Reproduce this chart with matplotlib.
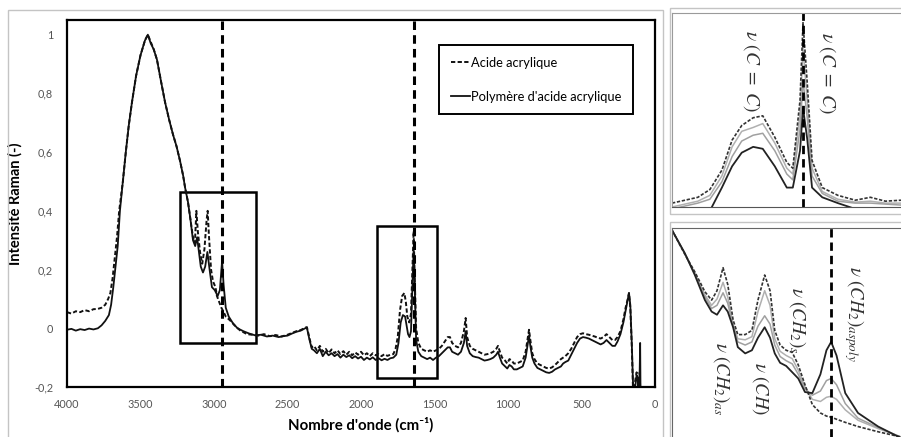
import matplotlib
matplotlib.use("Agg")
import matplotlib.pyplot as plt
from matplotlib.patches import Rectangle
from matplotlib.ticker import FuncFormatter

# --- main spectrum: acide acrylique (dashed) ---
acide_wn = [4000, 3970, 3940, 3910, 3880, 3850, 3820, 3790, 3765, 3740, 3720, 3705, 3690, 3675, 3660, 3645,
            3620, 3600, 3580, 3558, 3530, 3500, 3470, 3450, 3430, 3410, 3388, 3360, 3333, 3305, 3279, 3255,
            3231, 3210, 3197, 3177, 3160, 3143, 3130, 3120, 3110, 3095, 3080, 3065, 3050, 3043, 3035, 3020,
            3007, 2990, 2980, 2965, 2950, 2939, 2920, 2891, 2860, 2823, 2776, 2740, 2700, 2660, 2620, 2580,
            2540, 2500, 2470, 2440, 2410, 2380, 2368, 2350, 2335, 2320, 2300, 2280, 2260, 2240, 2220, 2200,
            2180, 2160, 2140, 2120, 2100, 2080, 2060, 2040, 2020, 2000, 1980, 1960, 1940, 1920, 1900, 1880,
            1860, 1840, 1820, 1800, 1780, 1765, 1750, 1735, 1720, 1705, 1695, 1685, 1672, 1660, 1650, 1642,
            1635, 1625, 1610, 1590, 1570, 1550, 1530, 1510, 1490, 1470, 1450, 1430, 1410, 1395, 1380, 1360,
            1340, 1320, 1300, 1288, 1278, 1260, 1240, 1220, 1200, 1180, 1160, 1140, 1120, 1100, 1080, 1068,
            1055, 1040, 1020, 1005, 990, 975, 960, 940, 920, 900, 880, 865, 857, 848, 835, 820,
            800, 780, 760, 740, 720, 700, 680, 660, 640, 625, 610, 590, 570, 550, 530, 510,
            490, 470, 450, 430, 410, 390, 370, 350, 330, 310, 290, 272, 255, 235, 215, 200,
            185, 177, 168, 158, 150, 143, 135, 125, 118, 110, 104, 98]
acide_int = [0.055, 0.050, 0.058, 0.055, 0.062, 0.058, 0.065, 0.066, 0.070, 0.08, 0.10, 0.12, 0.17, 0.24, 0.31, 0.40,
             0.50, 0.60, 0.69, 0.77, 0.86, 0.93, 0.98, 1.00, 0.975, 0.95, 0.915, 0.84, 0.77, 0.71, 0.66, 0.62,
             0.57, 0.52, 0.48, 0.43, 0.37, 0.31, 0.29, 0.40, 0.33, 0.26, 0.22, 0.27, 0.37, 0.40, 0.32, 0.20,
             0.16, 0.14, 0.11, 0.09, 0.07, 0.06, 0.04, 0.027, 0.01, -0.007, -0.02, -0.022, -0.025, -0.02, -0.027, -0.023,
             -0.028, -0.022, -0.016, -0.010, -0.006, 0.002, 0.004, -0.035, -0.065, -0.06, -0.075, -0.06, -0.08, -0.07, -0.085, -0.072,
             -0.085, -0.075, -0.088, -0.078, -0.09, -0.08, -0.092, -0.082, -0.09, -0.08, -0.092, -0.085, -0.095, -0.085, -0.092, -0.088,
             -0.095, -0.088, -0.094, -0.09, -0.088, -0.07, -0.03, 0.06, 0.11, 0.12, 0.09, 0.04, 0.02, 0.05, 0.20, 0.33,
             0.18, 0.0, -0.05, -0.07, -0.075, -0.08, -0.075, -0.08, -0.075, -0.07, -0.06, -0.045, -0.03, -0.03, -0.05, -0.06,
             -0.065, -0.05, -0.01, 0.035, -0.03, -0.06, -0.07, -0.075, -0.08, -0.085, -0.09, -0.088, -0.085, -0.08, -0.07, -0.06,
             -0.08, -0.10, -0.11, -0.12, -0.105, -0.11, -0.12, -0.12, -0.115, -0.11, -0.08, -0.03, -0.005, -0.04, -0.085, -0.105,
             -0.12, -0.125, -0.13, -0.135, -0.137, -0.133, -0.125, -0.115, -0.105, -0.10, -0.095, -0.085, -0.07, -0.05, -0.03, -0.02,
             -0.017, -0.02, -0.022, -0.025, -0.028, -0.032, -0.035, -0.03, -0.02, -0.03, -0.04, -0.04, -0.03, -0.01, 0.03, 0.07,
             0.10, 0.12, 0.07, -0.06, -0.2, -0.25, -0.18, -0.15, -0.17, -0.25, -0.15, -0.25]

# --- main spectrum: polymère (solid) ---
poly_wn = [4000, 3970, 3940, 3910, 3880, 3850, 3820, 3790, 3765, 3740, 3715, 3700, 3685, 3670, 3655, 3640,
           3620, 3600, 3580, 3558, 3530, 3500, 3470, 3450, 3430, 3410, 3388, 3360, 3333, 3305, 3279, 3255,
           3231, 3210, 3197, 3177, 3160, 3143, 3128, 3115, 3105, 3090, 3075, 3060, 3045, 3030, 3014, 2995,
           2975, 2960, 2945, 2935, 2920, 2900, 2871, 2840, 2800, 2760, 2720, 2680, 2640, 2600, 2560, 2530,
           2500, 2470, 2440, 2410, 2380, 2368, 2350, 2335, 2320, 2300, 2280, 2260, 2240, 2220, 2200, 2180,
           2160, 2140, 2120, 2100, 2080, 2060, 2040, 2020, 2000, 1980, 1960, 1940, 1920, 1900, 1880, 1860,
           1840, 1820, 1800, 1780, 1760, 1745, 1730, 1715, 1700, 1690, 1680, 1670, 1660, 1650, 1642, 1635,
           1625, 1610, 1590, 1570, 1550, 1530, 1510, 1490, 1470, 1450, 1430, 1410, 1395, 1380, 1360, 1340,
           1320, 1300, 1288, 1278, 1260, 1240, 1220, 1200, 1180, 1160, 1140, 1120, 1100, 1080, 1068, 1055,
           1040, 1020, 1005, 990, 975, 960, 940, 920, 900, 880, 865, 857, 848, 835, 820, 800,
           780, 760, 740, 720, 700, 680, 660, 640, 625, 610, 590, 570, 550, 530, 510, 490,
           470, 450, 430, 410, 390, 370, 350, 330, 310, 290, 272, 255, 235, 215, 200, 185,
           177, 168, 158, 150, 143, 135, 125, 118, 110, 104, 101, 98]
poly_int = [-0.005, -0.002, -0.008, -0.003, -0.006, -0.001, -0.004, 0.000, 0.010, 0.025, 0.045, 0.08, 0.14, 0.21, 0.28, 0.40,
            0.50, 0.60, 0.69, 0.77, 0.86, 0.93, 0.98, 1.00, 0.97, 0.95, 0.915, 0.84, 0.77, 0.71, 0.66, 0.62,
            0.57, 0.52, 0.48, 0.43, 0.37, 0.30, 0.28, 0.31, 0.27, 0.21, 0.19, 0.21, 0.26, 0.20, 0.14, 0.13,
            0.11, 0.13, 0.23, 0.15, 0.07, 0.04, 0.017, 0.000, -0.010, -0.018, -0.024, -0.022, -0.028, -0.025, -0.030, -0.027,
            -0.025, -0.018, -0.012, -0.008, 0.000, 0.002, -0.04, -0.07, -0.075, -0.085, -0.07, -0.095, -0.08, -0.092, -0.085, -0.095,
            -0.088, -0.100, -0.090, -0.098, -0.092, -0.102, -0.095, -0.103, -0.097, -0.108, -0.100, -0.106, -0.099, -0.108, -0.102, -0.109,
            -0.104, -0.108, -0.102, -0.100, -0.09, -0.05, 0.02, 0.045, 0.04, 0.01, -0.02, -0.03, -0.01, 0.15, 0.27, 0.15,
            -0.04, -0.08, -0.095, -0.10, -0.105, -0.10, -0.108, -0.100, -0.095, -0.085, -0.075, -0.065, -0.065, -0.08, -0.085, -0.09,
            -0.08, -0.05, -0.01, -0.06, -0.085, -0.095, -0.098, -0.10, -0.105, -0.11, -0.108, -0.105, -0.10, -0.09, -0.08, -0.10,
            -0.12, -0.13, -0.137, -0.125, -0.13, -0.14, -0.14, -0.135, -0.13, -0.10, -0.05, -0.025, -0.06, -0.10, -0.12, -0.135,
            -0.14, -0.145, -0.15, -0.152, -0.148, -0.14, -0.135, -0.13, -0.12, -0.115, -0.11, -0.09, -0.07, -0.05, -0.035, -0.03,
            -0.032, -0.035, -0.04, -0.045, -0.05, -0.055, -0.05, -0.04, -0.05, -0.06, -0.06, -0.045, -0.02, 0.02, 0.06, 0.10,
            0.12, 0.08, -0.05, -0.18, -0.25, -0.20, -0.16, -0.17, -0.25, -0.14, -0.05, -0.25]

# --- inset 1 : 1855-1475 cm-1 region (4 spectra) ---
ins1_wn = [1855, 1812, 1792, 1772, 1755, 1739, 1720, 1704, 1684, 1664, 1654, 1642, 1637, 1630, 1622, 1605, 1579, 1550, 1525, 1500, 1474]
ins1_acide = [0.02, 0.05, 0.09, 0.19, 0.345, 0.42, 0.46, 0.47, 0.36, 0.23, 0.20, 0.55, 0.95, 0.64, 0.24, 0.10, 0.06, 0.035, 0.05, 0.03, 0.035]
ins1_gris1 = [0.0, 0.03, 0.06, 0.16, 0.31, 0.39, 0.41, 0.43, 0.33, 0.20, 0.17, 0.48, 0.82, 0.55, 0.20, 0.08, 0.04, 0.025, 0.03, 0.02, 0.02]
ins1_gris2 = [-0.01, 0.02, 0.04, 0.13, 0.26, 0.34, 0.37, 0.38, 0.29, 0.17, 0.14, 0.40, 0.65, 0.46, 0.16, 0.07, 0.03, 0.02, 0.02, 0.015, 0.01]
ins1_poly = [-0.08, -0.05, -0.02, 0.10, 0.21, 0.28, 0.31, 0.30, 0.21, 0.10, 0.10, 0.29, 0.51, 0.35, 0.10, 0.05, 0.02, -0.01, -0.03, -0.04, -0.04]

# --- inset 2 : 3182-2841 cm-1 region (4 spectra) ---
ins2_wn = [3182, 3163, 3148, 3133, 3123, 3115, 3106, 3099, 3091, 3084, 3073, 3063, 3054, 3044, 3036, 3029,
           3021, 3012, 3003, 2994, 2984, 2973, 2961, 2952, 2945, 2937, 2924, 2905, 2875, 2841]
ins2_acide = [0.99, 0.875, 0.79, 0.695, 0.655, 0.70, 0.81, 0.73, 0.56, 0.49, 0.49, 0.51, 0.655, 0.775, 0.70, 0.51,
              0.44, 0.415, 0.405, 0.345, 0.25, 0.155, 0.115, 0.10, 0.095, 0.085, 0.07, 0.05, 0.025, 0.0]
ins2_gris1 = [0.99, 0.877, 0.785, 0.68, 0.63, 0.66, 0.74, 0.67, 0.54, 0.47, 0.465, 0.48, 0.60, 0.70, 0.63, 0.47,
              0.41, 0.39, 0.375, 0.32, 0.24, 0.18, 0.17, 0.19, 0.195, 0.18, 0.13, 0.08, 0.04, 0.0]
ins2_gris2 = [0.99, 0.877, 0.78, 0.67, 0.615, 0.63, 0.69, 0.64, 0.53, 0.455, 0.44, 0.455, 0.53, 0.58, 0.54, 0.44,
              0.385, 0.365, 0.35, 0.30, 0.23, 0.20, 0.22, 0.27, 0.28, 0.25, 0.16, 0.09, 0.045, 0.0]
ins2_poly = [0.99, 0.88, 0.775, 0.655, 0.60, 0.585, 0.63, 0.60, 0.525, 0.43, 0.40, 0.415, 0.475, 0.525, 0.475, 0.40,
             0.355, 0.34, 0.31, 0.28, 0.215, 0.21, 0.30, 0.415, 0.455, 0.39, 0.21, 0.115, 0.05, -0.005]

raies = [2945, 1640]
cadres = [(3231, 2714, -0.051, 0.464), (1893, 1481, -0.171, 0.348)]
yticks = [-0.2, 0, 0.2, 0.4, 0.6, 0.8, 1]
xticks = [4000, 3500, 3000, 2500, 2000, 1500, 1000, 500, 0]

W, H = 901, 437
fig = plt.figure(figsize=(W / 100, H / 100), dpi=100)
plt.rcParams['font.family'] = ['Lato', 'DejaVu Sans']
plt.rcParams['mathtext.fontset'] = 'stix'

def fx(px):
    return px / W

def fy(py):
    return 1 - py / H

# gray panel borders
for x0, y0, x1, y1 in [(8, 10, 663, 445), (670, 8, 905, 214), (670, 222, 905, 445)]:
    fig.add_artist(Rectangle((fx(x0), fy(y1)), fx(x1 - x0), (y1 - y0) / H, fill=False,
                             ec='#c4c4c4', lw=1.0, transform=fig.transFigure))

# main chart
ax = fig.add_axes([fx(67), fy(387), fx(655 - 67), (387 - 20) / H])
ax.plot(acide_wn, acide_int, color='#111111', lw=1.4, ls=(0, (2.2, 1.2)), label='Acide acrylique')
ax.plot(poly_wn, poly_int, color='#111111', lw=1.3, label="Polymère d'acide acrylique")
for r in raies:
    ax.axvline(r, color='black', lw=2.2, ls=(0, (2.8, 1.7)))
for xa, xb, ya, yb in cadres:
    ax.add_patch(Rectangle((xb, ya), xa - xb, yb - ya, fill=False, ec='black', lw=1.8))
ax.set_xlim(4000, 0)
ax.set_ylim(-0.2, 1.05)
ax.set_xticks(xticks)
ax.set_yticks(yticks)
ax.yaxis.set_major_formatter(FuncFormatter(lambda v, p: f"{v:g}".replace('.', ',')))
ax.tick_params(length=0, labelsize=7.8, labelcolor='#555555')
ax.tick_params(axis='y', pad=10)
ax.tick_params(axis='x', pad=9)
for s in ax.spines.values():
    s.set_linewidth(1.6)
ax.set_xlabel("Nombre d'onde (cm⁻¹)", fontsize=10.8, fontweight='bold', labelpad=5)
ax.set_ylabel("Intensité Raman (-)", fontsize=10.5, fontweight='bold', labelpad=8)
leg = ax.legend(loc='upper right', bbox_to_anchor=(0.963, 0.932), borderaxespad=0, fontsize=9.3,
                handlelength=1.5, handletextpad=0.1, labelspacing=1.7, borderpad=0.9,
                fancybox=False, framealpha=1)
leg.get_frame().set_edgecolor('black')
leg.get_frame().set_linewidth(1.4)

# inset 1
a1 = fig.add_axes([fx(672), fy(207), 1 - fx(672), (207 - 13) / H])
a1.plot(ins1_wn, ins1_gris1, color='#b0b0b0', lw=1.1)
a1.plot(ins1_wn, ins1_gris2, color='#a0a0a0', lw=1.1)
a1.plot(ins1_wn, ins1_acide, color='#333333', lw=1.2, ls=(0, (2, 1)))
a1.plot(ins1_wn, ins1_poly, color='#222222', lw=1.3)
a1.axvline(1637, color='black', lw=2.0, ls=(0, (3, 1.8)))
a1.set_xlim(1855, 1474)
a1.set_ylim(0, 1)
a1.set_xticks([])
a1.set_yticks([])
a1.spines['right'].set_visible(False)
a1.spines['top'].set_color('#9a9a9a')
a1.spines['left'].set_color('#9a9a9a')
a1.spines['bottom'].set_color('#555555')
a1.text(1722, 0.70, r"$\nu\ (C\ =\ C)$", rotation=-90, ha='center', va='center', fontsize=14, color='#333333')
a1.text(1597, 0.69, r"$\nu\ (C\ =\ C)$", rotation=-90, ha='center', va='center', fontsize=14, color='#333333')

# inset 2
a2 = fig.add_axes([fx(672), 0, 1 - fx(672), (437 - 228) / H])
a2.plot(ins2_wn, ins2_gris1, color='#b0b0b0', lw=1.1)
a2.plot(ins2_wn, ins2_gris2, color='#a0a0a0', lw=1.1)
a2.plot(ins2_wn, ins2_acide, color='#333333', lw=1.2, ls=(0, (2, 1)))
a2.plot(ins2_wn, ins2_poly, color='#222222', lw=1.3)
a2.axvline(2945, color='black', lw=2.0, ls=(0, (3, 1.8)))
a2.set_xlim(3182, 2841)
a2.set_ylim(0, 1)
a2.set_xticks([])
a2.set_yticks([])
a2.spines['right'].set_visible(False)
a2.spines['bottom'].set_visible(False)
a2.spines['top'].set_color('#666666')
a2.spines['left'].set_color('#666666')
a2.text(3109, 0.28, r"$\nu\ (CH_2)_{as}$", rotation=-90, ha='center', va='center', fontsize=13.5, color='#333333')
a2.text(3050, 0.23, r"$\nu\ (CH)$", rotation=-90, ha='center', va='center', fontsize=13.5, color='#333333')
a2.text(2995, 0.56, r"$\nu\ (CH_2)_{s}$", rotation=-90, ha='center', va='center', fontsize=13.5, color='#333333')
a2.text(2911, 0.59, r"$\nu\ (CH_2)_{as poly}$", rotation=-90, ha='center', va='center', fontsize=13.5, color='#333333')

fig.savefig('out.png', dpi=100)
